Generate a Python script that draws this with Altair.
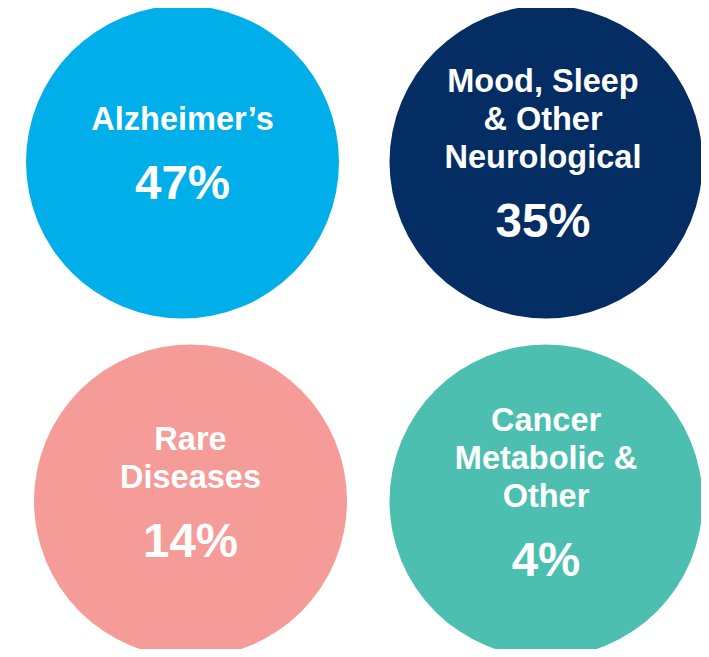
import altair as alt
import pandas as pd

# ---- data ----
categories = [
    "Alzheimer’s",
    "Mood, Sleep\n& Other\nNeurological",
    "Rare\nDiseases",
    "Cancer\nMetabolic &\nOther",
]
shares = [47, 35, 14, 4]
colors = ["#00AEEA", "#032D63", "#F59B98", "#4CBFB0"]

# ---- layout (plot-area pixel space) ----
W, H = 693, 641
col_x = [174.5, 538.0]
row_y = [154.0, 493.0]
nudge_x = {2: 8.0}          # bottom-left bubble sits a little to the right
text_nudge = {1: -3.0}
RADIUS = 156.5
LINE_H = 38
GAP = 69                    # last label baseline -> percentage baseline

recs = []
for i, (cat, val, colr) in enumerate(zip(categories, shares, colors)):
    r, c = divmod(i, 2)
    cx = col_x[c] + nudge_x.get(i, 0.0)
    cy = row_y[r]
    n = len(cat.split("\n"))
    block = (n - 1) * LINE_H + GAP
    first = cy + 2 - block / 2
    recs.append(dict(category=cat, share=val, pct=f"{val}%", color=colr,
                     cx=cx, tx=cx + text_nudge.get(i, 0.0), cy=cy,
                     ly=first, py=first + block))
df = pd.DataFrame(recs)

xs = alt.Scale(domain=[0, W], range=[0, W])
ys = alt.Scale(domain=[0, H], range=[0, H])

base = alt.Chart(df)

circles = base.mark_circle(opacity=1, strokeWidth=0).encode(
    x=alt.X("cx:Q", scale=xs, axis=None),
    y=alt.Y("cy:Q", scale=ys, axis=None),
    color=alt.Color("color:N", scale=None, legend=None),
    size=alt.value((2 * RADIUS) ** 2),
)

labels = base.mark_text(
    font="Liberation Sans", fontWeight="bold", fontSize=32.5, color="white",
    align="center", baseline="alphabetic", lineBreak="\n", lineHeight=LINE_H,
).encode(
    x=alt.X("tx:Q", scale=xs, axis=None),
    y=alt.Y("ly:Q", scale=ys, axis=None),
    text="category:N",
)

pcts = base.mark_text(
    font="Liberation Sans", fontWeight="bold", fontSize=47.5, color="white",
    align="center", baseline="alphabetic",
).encode(
    x=alt.X("tx:Q", scale=xs, axis=None),
    y=alt.Y("py:Q", scale=ys, axis=None),
    text="pct:N",
)

chart = alt.layer(circles, labels, pcts).properties(
    width=W, height=H, padding=0, autosize=alt.AutoSizeParams(type="none"),
    background="white",
).configure_view(stroke=None)

chart.save("out.html", embed_options={"renderer": "svg", "actions": False})
